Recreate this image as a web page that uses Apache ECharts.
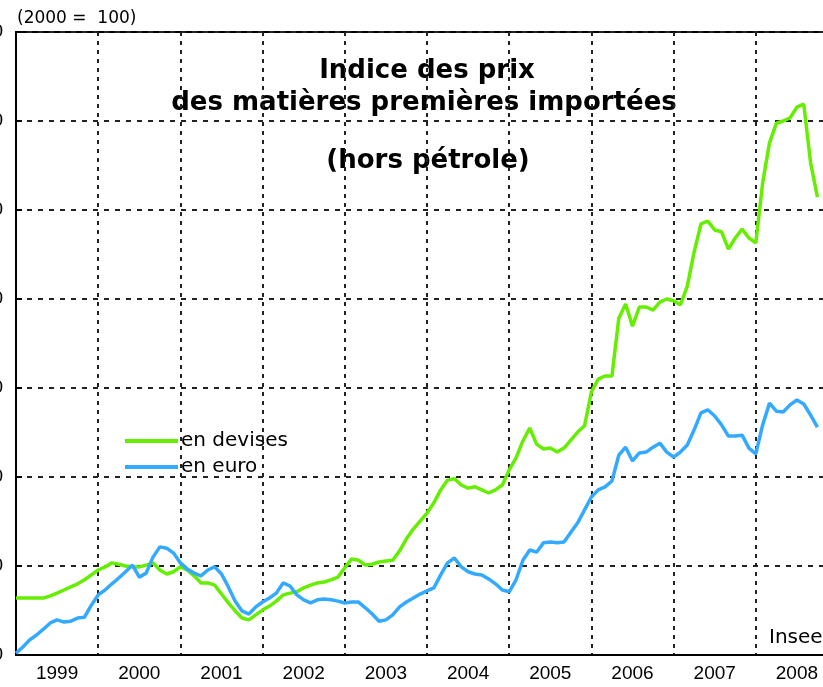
<!DOCTYPE html>
<html>
<head>
<meta charset="utf-8">
<title>Indice des prix des matières premières importées</title>
<script src="https://cdn.jsdelivr.net/npm/echarts/dist/echarts.min.js"></script>
<style>
    html, body {margin: 0; padding: 0; background: #fff;}
    #chart {width: 823px; height: 687px;}
</style>
</head>
<body>
<div id="chart"></div>
<script>
// axe des x : une bande par année, séries mensuelles à partir de janvier 1999
var years = ['1999', '2000', '2001', '2002', '2003', '2004', '2005', '2006', '2007', '2008'];
var firstYear = 1999;
var yMin = 80, yMax = 220, yStep = 20;

// indice base 2000 = 100, valeurs mensuelles
var enDevises = [
    92.8, 92.8, 92.8, 92.8, 92.8, 93.3, 93.9, 94.6, 95.3, 96.0, 96.9, 98.0,
    99.1, 99.8, 100.7, 100.4, 100.0, 99.8, 99.8, 100.2, 100.7, 99.1, 98.2, 98.7,
    99.8, 99.1, 97.8, 96.2, 96.2, 95.7, 93.7, 91.7, 89.9, 88.3, 87.9, 89.0,
    90.1, 91.0, 92.1, 93.5, 93.9, 94.2, 95.1, 95.7, 96.2, 96.4, 96.9, 97.5,
    99.6, 101.6, 101.3, 100.2, 100.4, 100.9, 101.1, 101.3, 103.4, 106.1, 108.3, 110.1,
    111.9, 114.2, 117.1, 119.3, 119.6, 118.2, 117.5, 117.8, 117.1, 116.4, 117.1, 118.2,
    121.6, 124.3, 128.1, 131.0, 127.4, 126.3, 126.5, 125.6, 126.5, 128.3, 130.1, 131.5,
    139.1, 142.0, 142.7, 142.7, 155.7, 158.9, 153.9, 158.2, 158.2, 157.5, 159.3, 160.0,
    159.6, 158.7, 162.9, 170.6, 176.9, 177.5, 175.5, 175.1, 171.2, 173.7, 175.7, 173.7,
    172.6, 186.1, 195.1, 199.5, 200.0, 200.7, 203.1, 203.8, 190.6, 182.9
];
var enEuro = [
    80.4, 81.8, 83.4, 84.5, 85.8, 87.2, 87.9, 87.4, 87.6, 88.3, 88.5, 91.2,
    93.5, 94.6, 96.0, 97.3, 98.7, 100.2, 97.5, 98.4, 102.0, 104.3, 104.0, 102.9,
    100.7, 99.3, 98.4, 97.8, 99.1, 99.8, 98.2, 95.3, 92.1, 89.9, 89.2, 90.8,
    91.9, 92.8, 93.9, 96.2, 95.5, 93.5, 92.4, 91.7, 92.4, 92.6, 92.4, 92.1,
    91.7, 91.9, 91.9, 90.6, 89.2, 87.6, 87.9, 89.0, 90.8, 91.9, 92.8, 93.7,
    94.4, 95.1, 98.0, 100.7, 101.8, 99.8, 98.7, 98.2, 98.0, 97.1, 96.0, 94.6,
    94.2, 96.9, 101.3, 103.6, 103.1, 105.2, 105.4, 105.2, 105.4, 107.6, 109.7, 112.6,
    115.5, 117.1, 117.8, 119.1, 124.9, 126.7, 123.6, 125.4, 125.6, 126.7, 127.6, 125.6,
    124.5, 125.6, 127.2, 130.6, 134.4, 135.1, 133.7, 131.7, 129.2, 129.2, 129.4, 126.5,
    125.2, 131.7, 136.6, 134.8, 134.6, 136.2, 137.3, 136.4, 133.9, 131.2
];

var seriesNames = ['en devises', 'en euro'];
var seriesColors = ['#66ee00', '#33aaff'];

function monthly(values) {
    return values.map(function (v, i) {
        return [firstYear + i / 12, v];
    });
}

var myChart = echarts.init(document.getElementById('chart'), null, {renderer: 'canvas'});

var option = {
    animation: false,
    backgroundColor: '#fff',
    textStyle: {fontFamily: 'Liberation Sans'},
    grid: {
        left: 16, top: 32, bottom: 32, right: -15,
        show: true, borderColor: '#000', borderWidth: 2,
        containLabel: false, outerBoundsMode: 'none'
    },
    legend: {
        data: seriesNames, orient: 'vertical', left: 125, top: 431, padding: 0,
        icon: 'rect', itemWidth: 53, itemHeight: 4, itemGap: 6,
        textStyle: {fontFamily: 'DejaVu Sans', fontSize: 20, color: '#000', padding: [0, 0, 0, -2]}
    },
    xAxis: [
        {
            type: 'category', data: years, boundaryGap: true,
            axisLine: {lineStyle: {color: '#000', width: 2}},
            axisTick: {inside: true, length: 10, interval: 0, lineStyle: {color: '#000', width: 2}},
            axisLabel: {interval: 0, color: '#000', fontSize: 19, margin: 9},
            splitLine: {show: true, interval: 0, lineStyle: {color: '#222', width: 2, type: [4, 5]}}
        },
        {type: 'value', min: firstYear, max: firstYear + years.length, show: false}
    ],
    yAxis: {
        type: 'value', min: yMin, max: yMax, interval: yStep,
        axisLine: {show: true, lineStyle: {color: '#000', width: 2}},
        axisTick: {show: true, inside: true, length: 6, lineStyle: {color: '#000', width: 2}},
        axisLabel: {color: '#000', fontSize: 19, margin: 13},
        splitLine: {lineStyle: {color: '#222', width: 2, type: [5, 6]}}
    },
    graphic: [
        {type: 'text', left: 17, top: 10, style: {text: '(2000 =  100)', fontFamily: 'DejaVu Sans', fontSize: 17, fill: '#000'}},
        {type: 'text', x: 427, y: 71, style: {text: 'Indice des prix', align: 'center', verticalAlign: 'middle', fontFamily: 'DejaVu Sans', fontWeight: 'bold', fontSize: 26, fill: '#000'}},
        {type: 'text', x: 424, y: 103, style: {text: 'des matières premières importées', align: 'center', verticalAlign: 'middle', fontFamily: 'DejaVu Sans', fontWeight: 'bold', fontSize: 26, fill: '#000'}},
        {type: 'text', x: 428, y: 161, style: {text: '(hors pétrole)', align: 'center', verticalAlign: 'middle', fontFamily: 'DejaVu Sans', fontWeight: 'bold', fontSize: 26, fill: '#000'}},
        {type: 'text', x: 769, y: 638, style: {text: 'Insee', verticalAlign: 'middle', fontFamily: 'DejaVu Sans', fontSize: 20, fill: '#000'}}
    ],
    series: [
        {
            name: seriesNames[0], type: 'line', xAxisIndex: 1, data: monthly(enDevises),
            showSymbol: false, symbol: 'none', color: seriesColors[0],
            lineStyle: {width: 3.5, color: seriesColors[0]}
        },
        {
            name: seriesNames[1], type: 'line', xAxisIndex: 1, data: monthly(enEuro),
            showSymbol: false, symbol: 'none', color: seriesColors[1],
            lineStyle: {width: 3.5, color: seriesColors[1]}
        }
    ]
};
myChart.setOption(option);
</script>
</body>
</html>
